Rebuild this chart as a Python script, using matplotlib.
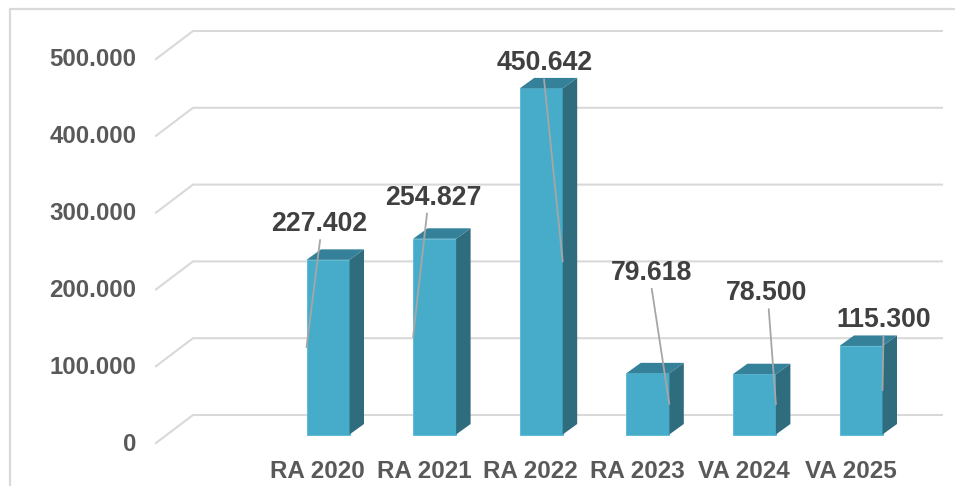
import matplotlib
matplotlib.use('Agg')
import matplotlib.pyplot as plt
from matplotlib.patches import Polygon

plt.rcParams['font.family'] = ['Liberation Sans', 'DejaVu Sans']

# Dados
categorias = ['RA 2020', 'RA 2021', 'RA 2022', 'RA 2023', 'VA 2024', 'VA 2025']
valores = [227402, 254827, 450642, 79618, 78500, 115300]
rotulos = ['227.402', '254.827', '450.642', '79.618', '78.500', '115.300']
ticks_y = [0, 100000, 200000, 300000, 400000, 500000]
ticks_y_txt = ['0', '100.000', '200.000', '300.000', '400.000', '500.000']

# Escala em pixels da imagem
W, H = 955, 486
px_cat = 106.6
px_val = 384 / 500000
x0_px = 328
y0_px = 434.5

def dx(p):
    return p / px_cat

def dy(p):
    return p / px_val

# onde cada linha guia encontra a barra (-1 esquerda, 1 direita) e deslocamentos do rótulo
lado = [-1, -1, 1, 1, 1, 1]
rot_dx = [13, 20, -18, -18, -9, 1]
rot_dy = [123, 139, 198, 131, 111, 70]
guia_rel = [0.51, 0.44, 0.49, 0.5, 0.52, 0.5]

fig = plt.figure(figsize=(W / 100, H / 100), dpi=100)
ax = fig.add_axes([0, 0, 1, 1])
ax.set_xlim(-x0_px / px_cat, (W - x0_px) / px_cat)
ax.set_ylim((y0_px - H) / px_val, y0_px / px_val)
ax.axis('off')

# Moldura
cor_moldura = '#D9D9D9'
ax.plot([9.5 / W, 9.5 / W, 1], [0, 1 - 9.5 / H, 1 - 9.5 / H], transform=fig.transFigure,
        color=cor_moldura, lw=1.6, clip_on=False, zorder=1)

# Grade com a parede do fundo
esq = -x0_px / px_cat
for t, txt in zip(ticks_y, ticks_y_txt):
    xs = [esq + dx(156), esq + dx(193), esq + dx(942)]
    ys = [t - dy(8.5), t + dy(19.5), t + dy(19.5)]
    ax.plot(xs, ys, color='#D9D9D9', lw=1.5, zorder=1, solid_joinstyle='miter')
    ax.text(esq + dx(136.5), t - dy(9.5), txt, ha='right', va='center', fontsize=17.3,
            fontweight='bold', color='#595959')

# Barras 3D
larg = 43 / px_cat
x_pos = list(range(len(valores)))
ax.bar(x_pos, valores, width=larg, color='#47ACC9', edgecolor='#56B8D3', lw=0.6, zorder=3)
prof_x = dx(14.5)
prof_y = dy(10.5)
for i, v in zip(x_pos, valores):
    d = i + larg / 2
    e = i - larg / 2
    ax.add_patch(Polygon([(d, 0), (d + prof_x, prof_y), (d + prof_x, v + prof_y), (d, v)],
                         closed=True, fc='#2F6C7E', ec='none', zorder=3))
    ax.add_patch(Polygon([(e, v), (e + prof_x, v + prof_y), (d + prof_x, v + prof_y), (d, v)],
                         closed=True, fc='#35819A', ec='none', zorder=3))

# Rótulos com linha guia
for i, v in enumerate(valores):
    ax.annotate(rotulos[i], xy=(i + lado[i] * larg / 2, v / 2),
                xytext=(rot_dx[i], rot_dy[i]), textcoords='offset pixels',
                ha='center', va='center', fontsize=19.2, fontweight='bold', color='#404040',
                zorder=5,
                arrowprops=dict(arrowstyle='-', color='#A6A6A6', lw=1.3, shrinkA=0, shrinkB=0,
                                relpos=(guia_rel[i], 0)))

# Categorias
for i, c in enumerate(categorias):
    ax.text(i - dx(10.5), dy(y0_px - 471), c, ha='center', va='center', fontsize=17.5,
            fontweight='bold', color='#595959')

fig.savefig('out.png', dpi=100, facecolor='white')
